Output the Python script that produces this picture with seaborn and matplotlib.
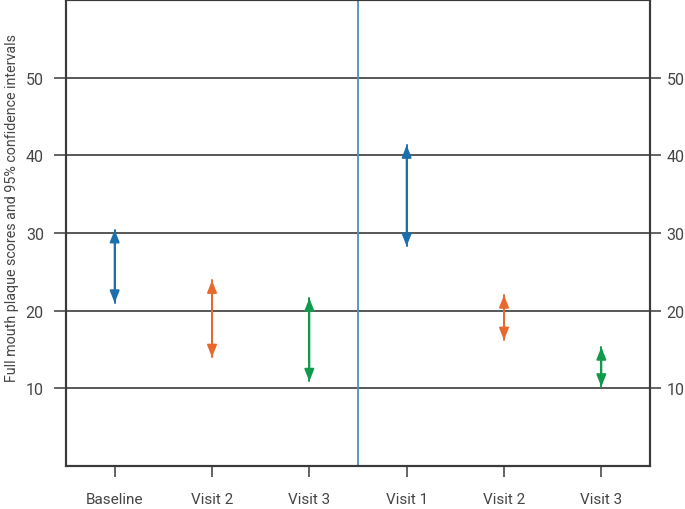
import numpy as np
import pandas as pd
import matplotlib
matplotlib.use("Agg")
import matplotlib.pyplot as plt
import seaborn as sns

# --- data ---
labels = ["Baseline", "Visit 2", "Visit 3", "Visit 1", "Visit 2", "Visit 3"]
lower = [21.0, 14.0, 10.9, 28.3, 16.2, 10.2]
upper = [30.4, 23.9, 21.6, 41.3, 22.0, 15.3]
groups = ["Baseline", "Visit 2", "Visit 3", "Baseline", "Visit 2", "Visit 3"]
yticks = [10, 20, 30, 40, 50]

palette = {"Baseline": "#1b6fad", "Visit 2": "#e8692b", "Visit 3": "#109a4c"}

pos = np.arange(len(labels))
df = pd.DataFrame({
    "pos": np.repeat(pos, 2),
    "value": np.ravel(np.column_stack([lower, upper])),
    "group": np.repeat(groups, 2),
    "unit": np.repeat(pos, 2),
})

sns.set_style("white", {"xtick.bottom": True, "ytick.left": True,
                         "ytick.right": True})
plt.rcParams["font.family"] = ["Roboto", "DejaVu Sans"]
txt = "#454545"

fig = plt.figure(figsize=(6.85, 5.1), dpi=100)
ax = fig.add_axes([66 / 685, 43 / 510, 584 / 685, 466 / 510])

# shafts
sns.lineplot(data=df, x="pos", y="value", hue="group", units="unit",
             estimator=None, palette=palette, lw=1.4, legend=False, ax=ax,
             sort=False)

# arrow heads
for x, lo, hi, g in zip(pos, lower, upper, groups):
    ax.annotate("", xy=(x, hi), xytext=(x, lo),
                arrowprops=dict(arrowstyle="<|-|>,head_length=0.6,head_width=0.24",
                                color=palette[g], lw=1.4,
                                shrinkA=0, shrinkB=0, mutation_scale=12))

ax.set_xlim(-0.5, 5.5)
ax.set_ylim(0, 60)

# horizontal grid lines
for yv in yticks:
    ax.axhline(yv, color="#4a4a4a", lw=1.3, zorder=0)
# separator
ax.axvline(2.5, color="#4f8fbf", lw=1.3, zorder=0)

ax.set_xticks(pos)
ax.set_xticklabels(labels)
ax.set_yticks(yticks)

# right-hand axis copy
ax2 = ax.twinx()
ax2.set_ylim(ax.get_ylim())
ax2.set_yticks(yticks)
ax2.tick_params(axis="y", right=True, left=False, direction="out", length=8,
                width=1.2, color="#4a4a4a", pad=4, labelsize=11.5, labelcolor=txt)
ax2.grid(False)

ax.tick_params(axis="x", bottom=True, direction="out", length=8, width=1.2,
               color="#4a4a4a", pad=11, labelsize=11, labelcolor=txt)
ax.tick_params(axis="y", left=True, right=False, direction="out", length=9,
               width=1.2, color="#4a4a4a", pad=7, labelsize=11.5, labelcolor=txt)

ax.set_xlabel("")
ax.set_ylabel("Full mouth plaque scores and 95% confidence intervals",
              fontsize=10.3, color=txt)
ax.yaxis.set_label_coords(-0.08, 0.555)

for a in (ax, ax2):
    for s in a.spines.values():
        s.set_color("#3a3a3a")
        s.set_linewidth(1.5)
        s.set_visible(True)

fig.savefig("out.png", dpi=100)
